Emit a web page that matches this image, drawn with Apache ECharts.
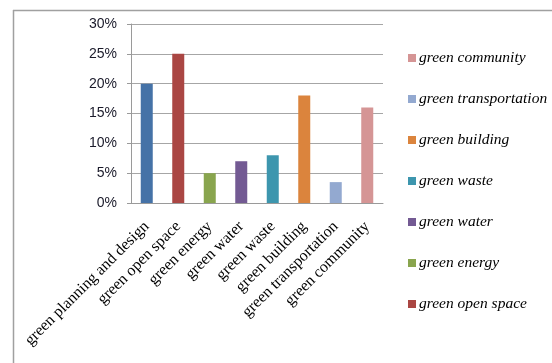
<!DOCTYPE html>
<html>
<head>
<meta charset="utf-8">
<script src="https://cdn.jsdelivr.net/npm/echarts@6/dist/echarts.min.js"></script>
<style>
  html, body { margin: 0; padding: 0; background: #fff; }
  #chart { width: 552px; height: 363px; }
</style>
</head>
<body>
<div id="chart"></div>
<script>
// 类目
var categories = [
  'green planning and design', 'green open space', 'green energy', 'green water',
  'green waste', 'green building', 'green transportation', 'green community'
]
// 百分比数值
var values = [20, 25, 5, 7, 8, 18, 3.5, 16]
var colors = ['#4572A7', '#AA4643', '#89A54E', '#735A93', '#3D96AE', '#DB843D', '#93A9D0', '#D59595']
// 图例顺序（倒序，不含第一项）
var legendNames = [
  'green community', 'green transportation', 'green building', 'green waste',
  'green water', 'green energy', 'green open space'
]

// 每个类目一个系列，方便图例
var series = categories.map(function (name, i) {
  return {
    name: name,
    type: 'bar',
    stack: 'all',
    barWidth: 12,
    itemStyle: { color: colors[i] },
    data: categories.map(function (c, j) { return j === i ? values[i] : '-' })
  }
})

var chart = echarts.init(document.getElementById('chart'))
chart.setOption({
  animation: false,
  grid: { left: 131, right: 169, top: 24, bottom: 160 },
  legend: {
    data: legendNames,
    orient: 'vertical',
    left: 403,
    top: 45,
    itemWidth: 8,
    itemHeight: 8,
    itemGap: 25,
    icon: 'rect',
    textStyle: {
      fontFamily: 'Liberation Serif',
      fontStyle: 'italic',
      fontSize: 15.5,
      color: '#000',
      lineHeight: 16,
      padding: [0, 0, 0, -2]
    }
  },
  xAxis: {
    type: 'category',
    data: categories,
    axisLine: { lineStyle: { color: '#9a9a9a' } },
    axisTick: { length: 4, lineStyle: { color: '#9a9a9a' } },
    axisLabel: {
      rotate: 45,
      interval: 0,
      margin: 21,
      fontFamily: 'Liberation Serif',
      fontSize: 16,
      color: '#000'
    }
  },
  yAxis: {
    type: 'value',
    min: 0,
    max: 30,
    interval: 5,
    axisLine: { show: true, lineStyle: { color: '#9a9a9a' } },
    axisTick: { show: true, length: 4, lineStyle: { color: '#9a9a9a' } },
    splitLine: { lineStyle: { color: '#a6a6a6' } },
    axisLabel: {
      formatter: '{value}%',
      margin: 14,
      fontFamily: 'Liberation Sans',
      fontSize: 14,
      color: '#1a1a2a'
    }
  },
  graphic: [
    { type: 'line', shape: { x1: 13.5, y1: 10, x2: 13.5, y2: 363 }, style: { stroke: '#a0a0a0', lineWidth: 1.5 } },
    { type: 'line', shape: { x1: 13, y1: 10.5, x2: 552, y2: 10.5 }, style: { stroke: '#a0a0a0', lineWidth: 1.5 } }
  ],
  series: series
})
</script>
</body>
</html>
